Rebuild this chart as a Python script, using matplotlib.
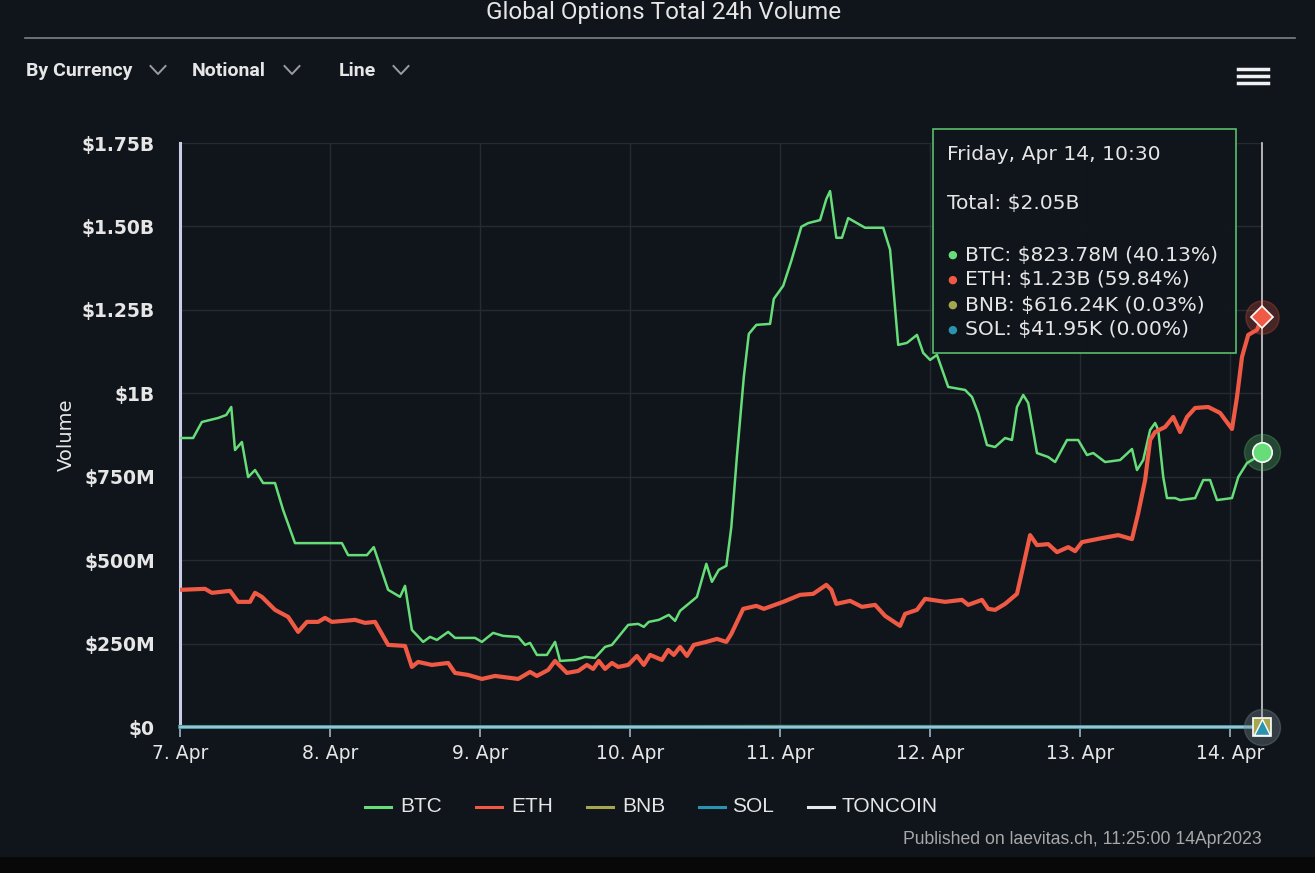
import matplotlib
matplotlib.use("Agg")
import matplotlib.pyplot as plt
from matplotlib.lines import Line2D
from matplotlib.patches import Rectangle

# ------------------------------- data ($M, hours since 7 Apr 00:00) -------------------------------

btc_hours = [0, 2.1, 3.5, 6.1, 7.4, 8.2, 8.8, 9.9, 10.9, 12.0, 13.3, 15.2, 16.5, 18.4, 25.9,
             26.9, 29.9, 31.0, 33.3, 35.2, 36.0, 37.1, 38.9, 40.0, 41.1, 42.9, 44.0, 47.2,
             48.3, 50.1, 51.7, 54.1, 55.2, 56.0, 57.1, 58.7, 60.0, 60.8, 63.2, 64.8, 66.4,
             68.0, 69.1, 71.7, 73.3, 74.2, 75.0, 76.6, 78.2, 79.2, 80.0, 82.7, 84.2, 85.1,
             86.2, 87.4, 88.2, 89.1, 90.2, 91.0, 92.2, 94.4, 95.0, 96.5, 97.8, 99.4, 100.5,
             102.4, 103.4, 104.0, 105.0, 105.9, 106.9, 109.6, 112.5, 113.6, 114.9, 116.3,
             117.9, 118.9, 120.0, 121.1, 122.9, 125.6, 126.7, 127.7, 129.1, 130.4, 132.0,
             133.1, 133.9, 134.9, 135.7, 137.1, 138.9, 140.0, 141.9, 143.7, 145.1, 146.1,
             148.0, 150.4, 152.3, 153.1, 154.1, 155.2, 156.0, 156.5, 157.3, 157.9, 159.2,
             160.0, 162.4, 163.7, 164.8, 165.9, 168.3, 169.3, 170.7, 172.3, 173.1]
btc_values = [866, 866, 914, 926, 935, 959, 830, 854, 749, 770, 731, 731, 650, 551, 551,
              515, 515, 539, 411, 390, 423, 291, 255, 270, 261, 285, 267, 267,
              255, 282, 273, 270, 246, 252, 216, 216, 255, 198, 201, 210, 207,
              240, 246, 306, 309, 300, 315, 321, 336, 318, 348, 390, 489, 435,
              471, 483, 599, 812, 1049, 1178, 1205, 1208, 1283, 1322, 1397, 1499, 1510,
              1519, 1582, 1606, 1466, 1466, 1525, 1496, 1496, 1430, 1145, 1151,
              1175, 1121, 1100, 1115, 1019, 1010, 989, 941, 845, 839, 866,
              860, 959, 995, 971, 821, 809, 794, 860, 860, 815, 821,
              794, 800, 833, 770, 800, 890, 911, 890, 749, 686, 686,
              680, 686, 740, 740, 680, 686, 749, 791, 809, 823.78]

eth_hours = [0, 4.0, 5.1, 8.0, 9.3, 11.2, 12.0, 13.1, 15.2, 17.3, 18.9, 20.3, 22.1, 23.2,
             24.3, 28.0, 29.6, 31.2, 33.3, 36.0, 37.1, 38.1, 40.3, 42.9, 44.0, 46.1, 48.3,
             50.4, 54.1, 56.0, 57.1, 58.9, 60.0, 61.9, 63.7, 65.1, 66.1, 67.0, 68.0, 69.1,
             70.1, 71.7, 73.1, 74.2, 75.2, 77.1, 78.1, 79.0, 80.0, 81.1, 82.2, 84.2, 85.9,
             87.4, 88.2, 90.1, 92.2, 93.4, 96.5, 99.2, 101.3, 103.4, 104.2, 105.0, 107.2,
             109.1, 111.2, 112.8, 115.2, 116.0, 117.9, 119.2, 122.4, 125.1, 126.1, 128.3,
             129.3, 130.4, 132.0, 133.9, 134.7, 136.0, 137.1, 138.9, 140.3, 142.1, 143.2,
             144.3, 147.5, 150.1, 152.3, 153.3, 154.4, 155.2, 156.0, 157.6, 158.9, 160.0,
             161.1, 162.4, 164.5, 166.4, 168.3, 169.1, 169.9, 170.9, 172.3, 173.1]
eth_values = [411, 414, 402, 408, 375, 375, 402, 390, 351, 330, 285, 315, 315, 327,
              315, 321, 312, 315, 246, 243, 180, 195, 186, 192, 162, 156, 144,
              153, 144, 165, 153, 171, 198, 162, 168, 186, 174, 198, 174, 192,
              180, 186, 213, 186, 216, 201, 231, 216, 240, 213, 246, 255, 264,
              255, 279, 354, 363, 354, 375, 396, 399, 426, 411, 369, 378,
              360, 366, 333, 303, 339, 351, 384, 375, 381, 366, 381,
              354, 351, 369, 399, 465, 575, 545, 548, 524, 539, 527,
              554, 566, 575, 563, 641, 740, 860, 884, 899, 929, 884,
              929, 956, 959, 941, 893, 989, 1109, 1175, 1190, 1228]

small_hours = [0, 48, 96, 144, 173.1]
bnb_values = [0.9, 0.5, 1.2, 0.8, 0.616]
sol_values = [0.06, 0.03, 0.08, 0.05, 0.042]
ton_values = [0.02, 0.01, 0.03, 0.02, 0.02]

day_ticks = [0, 24, 48, 72, 96, 120, 144, 168]
day_labels = ["7. Apr", "8. Apr", "9. Apr", "10. Apr", "11. Apr", "12. Apr", "13. Apr", "14. Apr"]
vol_ticks = [0, 250, 500, 750, 1000, 1250, 1500, 1750]
vol_labels = ["$0", "$250M", "$500M", "$750M", "$1B", "$1.25B", "$1.50B", "$1.75B"]

series_names = ["BTC", "ETH", "BNB", "SOL", "TONCOIN"]
tooltip_lines = ["BTC: $823.78M (40.13%)", "ETH: $1.23B (59.84%)",
                 "BNB: $616.24K (0.03%)", "SOL: $41.95K (0.00%)"]

# ------------------------------- style -------------------------------

W, H = 1315, 873
BG = "#10141b"
C_BTC, C_ETH, C_BNB, C_SOL, C_TON = "#66dd78", "#f05a45", "#a6a64e", "#2a94b0", "#e4e8f0"
colors = [C_BTC, C_ETH, C_BNB, C_SOL, C_TON]
TXT = "#e6e6e6"

plt.rcParams["font.family"] = ["DejaVu Sans"]


def fx(px):
    return px / W


def fy(py):
    return 1 - py / H


fig = plt.figure(figsize=(W / 100, H / 100), dpi=100, facecolor=BG)
ax = fig.add_axes([fx(180), fy(727), fx(1262) - fx(180), fy(143) - fy(727)], facecolor=BG)

ax.plot(btc_hours, btc_values, color=C_BTC, lw=1.8, zorder=4, solid_joinstyle="round")
ax.plot(eth_hours, eth_values, color=C_ETH, lw=3.0, zorder=4, solid_joinstyle="round")
ax.plot(small_hours, bnb_values, color=C_BNB, lw=2.5, zorder=3, clip_on=False)
ax.plot(small_hours, sol_values, color=C_SOL, lw=2.5, zorder=3, clip_on=False)
ax.plot(small_hours, ton_values, color=C_TON, lw=1.2, zorder=3, alpha=0.7, clip_on=False)

ax.set_xlim(0, btc_hours[-1])
ax.set_ylim(0, 1750)
ax.set_xticks(day_ticks)
ax.set_xticklabels(day_labels)
ax.set_yticks(vol_ticks)
ax.set_yticklabels(vol_labels)
ax.grid(True, color="#262b33", lw=1.0)
ax.set_axisbelow(True)

for s in ("top", "right"):
    ax.spines[s].set_visible(False)
ax.spines["left"].set_color("#c8cce4")
ax.spines["left"].set_linewidth(2.2)
ax.spines["bottom"].set_color("#a8c8dc")
ax.spines["bottom"].set_linewidth(1.8)

ax.tick_params(axis="x", colors="#9fb3c4", length=7, width=1.2, pad=5,
               labelcolor=TXT, labelsize=13.5)
ax.tick_params(axis="y", length=0, pad=18, labelcolor=TXT, labelsize=13.5)
for lab in ax.get_yticklabels():
    lab.set_fontweight("bold")

# crosshair + hover markers
end_h = btc_hours[-1]
ax.axvline(end_h, color="#d0d0d0", lw=1.2, zorder=5, clip_on=False)
ax.plot([end_h], [eth_values[-1]], "o", ms=24, color=C_ETH, alpha=0.25, zorder=6, clip_on=False)
ax.plot([end_h], [eth_values[-1]], "D", ms=11, color=C_ETH, mec="white", mew=1.2, zorder=7, clip_on=False)
ax.plot([end_h], [btc_values[-1]], "o", ms=26, color=C_BTC, alpha=0.25, zorder=6, clip_on=False)
ax.plot([end_h], [btc_values[-1]], "o", ms=14, color=C_BTC, mec="white", mew=1.2, zorder=7, clip_on=False)
ax.plot([end_h], [bnb_values[-1]], "o", ms=26, color="#7a8a90", alpha=0.35, zorder=6, clip_on=False)
ax.plot([end_h], [bnb_values[-1]], "s", ms=13, color=C_BNB, mec="white", mew=1.2, zorder=7, clip_on=False)
ax.plot([end_h], [sol_values[-1]], "^", ms=11, color=C_SOL, mec="white", mew=1.0, zorder=8, clip_on=False)

fig.text(fx(66), fy(435), "Volume", rotation=90, ha="center", va="center", color=TXT, fontsize=14)

# ------------------------------- header -------------------------------

fig.text(fx(664), fy(13), "Global Options Total 24h Volume", ha="center", va="center",
         color=TXT, fontsize=17.5, family="Roboto")
fig.add_artist(Line2D([fx(25), fx(1295)], [fy(38), fy(38)], color="#7d8086", lw=1.2))

for label, x0, cx in [("By Currency", 26, 158), ("Notional", 192, 292), ("Line", 339, 401)]:
    fig.text(fx(x0), fy(71), label, ha="left", va="center", color=TXT, fontsize=14,
             family="Roboto", fontweight="bold")
    fig.add_artist(Line2D([fx(cx - 7.5), fx(cx), fx(cx + 7.5)], [fy(66), fy(74), fy(66)],
                          color="#9a9ca2", lw=1.4))

for yy in (69, 76, 83):
    fig.add_artist(Line2D([fx(1238), fx(1268)], [fy(yy), fy(yy)], color="#f0f0f0", lw=2.5))

# ------------------------------- tooltip -------------------------------

fig.add_artist(Rectangle((fx(933), fy(353)), fx(1236) - fx(933), fy(129) - fy(353),
                         transform=fig.transFigure, facecolor=BG, edgecolor="#5cc86e",
                         lw=1.2, alpha=0.95, zorder=10))
fig.text(fx(947), fy(154), "Friday, Apr 14, 10:30", ha="left", va="center",
         color=TXT, fontsize=14.6, zorder=11)
fig.text(fx(947), fy(204), "Total: $2.05B", ha="left", va="center",
         color=TXT, fontsize=14.6, zorder=11)
for i, line in enumerate(tooltip_lines):
    yy = 255 + 25 * i
    fig.text(fx(952), fy(yy), "\u25cf", ha="center", va="center", color=colors[i],
             fontsize=8, zorder=11)
    fig.text(fx(965), fy(yy), line, ha="left", va="center", color=TXT, fontsize=14.6, zorder=11)

# ------------------------------- legend + footer -------------------------------

leg_items = [(365, 400), (476, 511), (587, 622), (699, 732), (808, 842)]
for (lx, tx), name, c in zip(leg_items, series_names, colors):
    fig.add_artist(Line2D([fx(lx), fx(lx + 26)], [fy(807), fy(807)], color=c, lw=2.2))
    fig.text(fx(tx), fy(806), name, ha="left", va="center", color=TXT, fontsize=15,
             family="Liberation Sans")

fig.text(fx(1262), fy(840), "Published on laevitas.ch, 11:25:00 14Apr2023", ha="right",
         va="center", color="#a8a8a8", fontsize=12.7, family="Liberation Sans")

fig.add_artist(Rectangle((0, 0), 1, fy(857), transform=fig.transFigure,
                         facecolor="#080808", edgecolor="none", zorder=0))

fig.savefig("out.png", dpi=100, facecolor=BG)
